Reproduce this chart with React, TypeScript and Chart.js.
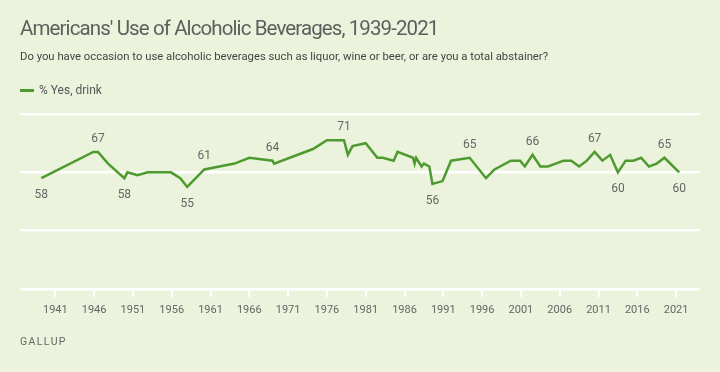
import React, { useEffect, useRef } from "react";
import { Chart, registerables } from "chart.js";

Chart.register(...registerables);

const years = [1939.2, 1945.9, 1946.5, 1947.8, 1949.9, 1950.3, 1951.6, 1952.9, 1955.9, 1957.1, 1958.0, 1960.2, 1964.1, 1966.0, 1969.0, 1969.2, 1974.2, 1976.0, 1978.2, 1978.7, 1979.3, 1981.0, 1982.5, 1983.2, 1984.6, 1985.1, 1987.1, 1987.3, 1987.5, 1988.2, 1988.5, 1989.2, 1989.6, 1990.9, 1992.0, 1994.4, 1996.5, 1997.6, 1999.7, 2000.9, 2001.5, 2002.5, 2003.5, 2004.5, 2006.5, 2007.5, 2008.5, 2009.5, 2010.5, 2011.5, 2012.5, 2013.5, 2014.5, 2015.5, 2016.5, 2017.5, 2018.5, 2019.5, 2021.4];
const yesDrink = [58, 67, 67, 63, 58, 60, 59, 60, 60, 58, 55, 61, 63, 65, 64, 63, 68, 71, 71, 66, 69, 70, 65, 65, 64, 67, 65, 63, 65, 62, 63, 62, 56, 57, 64, 65, 58, 61, 64, 64, 62, 66, 62, 62, 64, 64, 62, 64, 67, 64, 66, 60, 64, 64, 65, 62, 63, 65, 60];
const tickYears = [1941, 1946, 1951, 1956, 1961, 1966, 1971, 1976, 1981, 1986, 1991, 1996, 2001, 2006, 2011, 2016, 2021];
const yTicks = [20, 40, 60, 80];
const labelAbove = [2, 11, 14, 18, 35, 41, 48, 57];
const labelBelow = [0, 4, 10, 32, 51, 58];

const FONT = "Roboto, 'Noto Sans', sans-serif";
const BG = "#ebf3dc";
const GREEN = "#4f9a2f";
const GRAY = "#666666";

export default function App() {
  const ref = useRef<HTMLCanvasElement>(null);
  useEffect(() => {
    const canvas = ref.current;
    if (!canvas) return;
    const labelPlugin = {
      id: "pointLabels",
      afterDatasetsDraw(chart: any) {
        const meta = chart.getDatasetMeta(0);
        const ctx = chart.ctx;
        ctx.save();
        ctx.font = `12px ${FONT}`;
        ctx.fillStyle = GRAY;
        ctx.textAlign = "center";
        ctx.textBaseline = "middle";
        labelAbove.forEach((i) => {
          const p = meta.data[i];
          ctx.fillText(String(yesDrink[i]), p.x, p.y - 13);
        });
        labelBelow.forEach((i) => {
          const p = meta.data[i];
          ctx.fillText(String(yesDrink[i]), p.x, p.y + 17);
        });
        ctx.restore();
      },
    };
    const chart = new Chart(canvas, {
      type: "line",
      data: {
        datasets: [
          {
            label: "% Yes, drink",
            data: years.map((y, i) => ({ x: y, y: yesDrink[i] })),
            borderColor: GREEN,
            backgroundColor: GREEN,
            borderWidth: 2.5,
            pointRadius: 0,
            tension: 0,
          },
        ],
      },
      options: {
        animation: false,
        responsive: false,
        maintainAspectRatio: false,
        layout: { padding: { left: 20, right: 20, top: 114, bottom: 0 } },
        plugins: { legend: { display: false }, tooltip: { enabled: false }, title: { display: false } },
        scales: {
          x: {
            type: "linear",
            min: 1936.45,
            max: 2024.08,
            afterBuildTicks: (scale: any) => {
              scale.ticks = tickYears.map((v) => ({ value: v }));
            },
            afterFit: (scale: any) => {
              scale.height = 83;
            },
            grid: { drawOnChartArea: false, drawTicks: true, tickLength: 8, color: "#ffffff", lineWidth: 2 },
            border: { display: false },
            ticks: {
              autoSkip: false,
              maxRotation: 0,
              padding: 7,
              color: GRAY,
              font: { family: FONT, size: 11 },
              callback: (v: any) => String(v),
            },
          },
          y: {
            min: 20,
            max: 80,
            afterBuildTicks: (scale: any) => {
              scale.ticks = yTicks.map((v) => ({ value: v }));
            },
            afterFit: (scale: any) => {
              scale.width = 0;
            },
            grid: { color: "#ffffff", lineWidth: 2.5, drawTicks: false },
            border: { display: false },
            ticks: { display: false },
          },
        },
      },
      plugins: [labelPlugin],
    });
    return () => chart.destroy();
  }, []);

  const txt: React.CSSProperties = { position: "absolute", whiteSpace: "nowrap", lineHeight: 1 };
  return (
    <div style={{ position: "fixed", left: 0, top: 0, width: 720, height: 372, background: BG, overflow: "hidden", fontFamily: FONT }}>
      <canvas ref={ref} width={720} height={372} style={{ position: "absolute", left: 0, top: 0 }} />
      <div style={{ ...txt, left: 20, top: 17.7, fontSize: 20.5, letterSpacing: -0.9, color: "#5e5e5e" }}>
        Americans' Use of Alcoholic Beverages, 1939-2021
      </div>
      <div style={{ ...txt, left: 20, top: 50.5, fontSize: 11.3, color: "#444" }}>
        Do you have occasion to use alcoholic beverages such as liquor, wine or beer, or are you a total abstainer?
      </div>
      <div style={{ ...txt, left: 20, top: 84, fontSize: 12, color: "#555", display: "flex", alignItems: "center" }}>
        <span style={{ display: "inline-block", width: 14, height: 3, background: GREEN, marginRight: 5 }} />
        % Yes, drink
      </div>
      <div style={{ ...txt, left: 20, top: 337, fontSize: 10.5, color: "#666", letterSpacing: 1.4 }}>
        GALLUP
      </div>
    </div>
  );
}
